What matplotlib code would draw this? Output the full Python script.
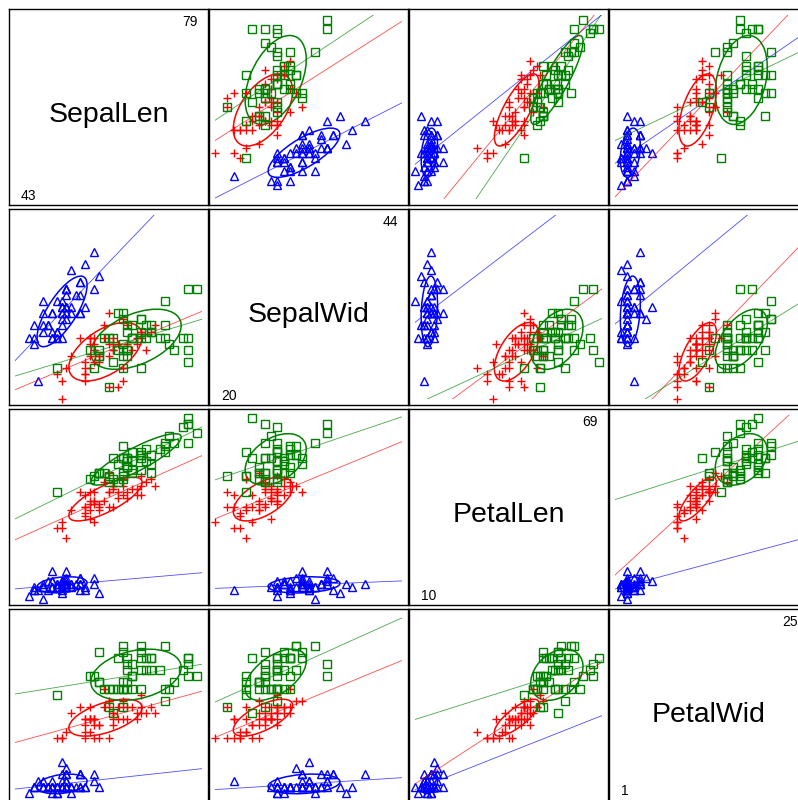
import numpy as np
import matplotlib
matplotlib.use("Agg")
import matplotlib.pyplot as plt
from matplotlib.patches import Ellipse

plt.rcParams['font.family'] = ['Liberation Sans', 'DejaVu Sans']

# Fisher's iris data, in millimetres
setosa_sl = [51, 49, 47, 46, 50, 54, 46, 50, 44, 49, 54, 48, 48, 43, 58, 57, 54, 51, 57, 51,
             54, 51, 46, 51, 48, 50, 50, 52, 52, 47, 48, 54, 52, 55, 49, 50, 55, 49, 44, 51,
             50, 45, 44, 50, 51, 48, 51, 46, 53, 50]
setosa_sw = [35, 30, 32, 31, 36, 39, 34, 34, 29, 31, 37, 34, 30, 30, 40, 44, 39, 35, 38, 38,
             34, 37, 36, 33, 34, 30, 34, 35, 34, 32, 31, 34, 41, 42, 31, 32, 35, 36, 30, 34,
             35, 23, 32, 35, 38, 30, 38, 32, 37, 33]
setosa_pl = [14, 14, 13, 15, 14, 17, 14, 15, 14, 15, 15, 16, 14, 11, 12, 15, 13, 14, 17, 15,
             17, 15, 10, 17, 19, 16, 16, 15, 14, 16, 16, 15, 15, 14, 15, 12, 13, 14, 13, 15,
             13, 13, 13, 16, 19, 14, 16, 14, 15, 14]
setosa_pw = [2, 2, 2, 2, 2, 4, 3, 2, 2, 1, 2, 2, 1, 1, 2, 4, 4, 3, 3, 3,
             2, 4, 2, 5, 2, 2, 4, 2, 2, 2, 2, 4, 1, 2, 2, 2, 2, 1, 2, 2,
             3, 3, 2, 6, 4, 3, 2, 2, 2, 2]

versi_sl = [70, 64, 69, 55, 65, 57, 63, 49, 66, 52, 50, 59, 60, 61, 56, 67, 56, 58, 62, 56,
            59, 61, 63, 61, 64, 66, 68, 67, 60, 57, 55, 55, 58, 60, 54, 60, 67, 63, 56, 55,
            55, 61, 58, 50, 56, 57, 57, 62, 51, 57]
versi_sw = [32, 32, 31, 23, 28, 28, 33, 24, 29, 27, 20, 30, 22, 29, 29, 31, 30, 27, 22, 25,
            32, 28, 25, 28, 29, 30, 28, 30, 29, 26, 24, 24, 27, 27, 30, 34, 31, 23, 30, 25,
            26, 30, 26, 23, 27, 30, 29, 29, 25, 28]
versi_pl = [47, 45, 49, 40, 46, 45, 47, 33, 46, 39, 35, 42, 40, 47, 36, 44, 45, 41, 45, 39,
            48, 40, 49, 47, 43, 44, 48, 50, 45, 35, 38, 37, 39, 51, 45, 45, 47, 44, 41, 40,
            44, 46, 40, 33, 42, 42, 42, 43, 30, 41]
versi_pw = [14, 15, 15, 13, 15, 13, 16, 10, 13, 14, 10, 15, 10, 14, 13, 14, 15, 10, 15, 11,
            18, 13, 15, 12, 13, 14, 14, 17, 15, 10, 11, 10, 12, 16, 15, 16, 15, 13, 13, 13,
            12, 14, 12, 10, 13, 12, 13, 13, 11, 13]

virgi_sl = [63, 58, 71, 63, 65, 76, 49, 73, 67, 72, 65, 64, 68, 57, 58, 64, 65, 77, 77, 60,
            69, 56, 77, 63, 67, 72, 62, 61, 64, 72, 74, 79, 64, 63, 61, 77, 63, 64, 60, 69,
            67, 69, 58, 68, 67, 67, 63, 65, 62, 59]
virgi_sw = [33, 27, 30, 29, 30, 30, 25, 29, 25, 36, 32, 27, 30, 25, 28, 32, 30, 38, 26, 22,
            32, 28, 28, 27, 33, 32, 28, 30, 28, 30, 28, 38, 28, 28, 26, 30, 34, 31, 30, 31,
            31, 31, 27, 32, 33, 30, 25, 30, 34, 30]
virgi_pl = [60, 51, 59, 56, 58, 66, 45, 63, 58, 61, 51, 53, 55, 50, 51, 53, 55, 67, 69, 50,
            57, 49, 67, 49, 57, 60, 48, 49, 56, 58, 61, 64, 56, 51, 56, 61, 56, 55, 48, 54,
            56, 51, 51, 59, 57, 52, 50, 52, 54, 51]
virgi_pw = [25, 19, 21, 18, 22, 21, 17, 18, 18, 25, 20, 19, 21, 20, 24, 23, 18, 22, 23, 15,
            23, 20, 20, 18, 21, 18, 18, 18, 21, 16, 19, 20, 22, 15, 14, 23, 24, 18, 18, 21,
            24, 23, 19, 23, 25, 23, 19, 20, 23, 18]

var_names = ['SepalLen', 'SepalWid', 'PetalLen', 'PetalWid']
var_min = [43, 20, 10, 1]
var_max = [79, 44, 69, 25]
axis_lims = [(40, 80), (20, 50), (10, 70), (0, 30)]

species = [
    ([setosa_sl, setosa_sw, setosa_pl, setosa_pw], '#0000ff', '^'),
    ([versi_sl, versi_sw, versi_pl, versi_pw], '#ff0000', '+'),
    ([virgi_sl, virgi_sw, virgi_pl, virgi_pw], '#008000', 's'),
]

W, H = 798, 800
fig = plt.figure(figsize=(W / 100, H / 100), dpi=100)

pw, ph = 199, 196   # panel frame size in px
pad = 6             # inner margin between frame and data area
c = 1.52            # ellipse scale (about 68 %)


def frac(x, y, w, h):
    return [x / W, 1 - (y + h) / H, w / W, h / H]


for i in range(4):
    for j in range(4):
        x0 = 9 + 200 * j
        y0 = 9 + 200 * i
        frame = fig.add_axes(frac(x0, y0, pw, ph))
        frame.set_xticks([])
        frame.set_yticks([])
        for sp in frame.spines.values():
            sp.set_linewidth(1.0)
            sp.set_color('black')
        frame.patch.set_alpha(0)

        if i == j:
            frame.text(0.5, 0.457, var_names[i], ha='center', va='center',
                       fontsize=20.5, transform=frame.transAxes)
            frame.annotate(str(var_max[i]), (1, 1), xycoords='axes fraction',
                           xytext=(-10, -6), textcoords='offset pixels',
                           ha='right', va='top', fontsize=10)
            # last panel runs past the bottom edge, lift its label a bit
            yoff = 5 if i < 3 else 10
            frame.annotate(str(var_min[i]), (0, 0), xycoords='axes fraction',
                           xytext=(12, yoff), textcoords='offset pixels',
                           ha='left', va='baseline', fontsize=10)
            continue

        ax = fig.add_axes(frac(x0 + pad, y0 + pad, pw - 2 * pad, ph - 2 * pad))
        ax.set_xlim(axis_lims[j])
        ax.set_ylim(axis_lims[i])
        ax.axis('off')

        for data, col, mk in species:
            xs = np.array(data[j], dtype=float)
            ys = np.array(data[i], dtype=float)

            # regression line of y on x, across the whole panel
            b, a = np.polyfit(xs, ys, 1)
            lx = np.array(axis_lims[j], dtype=float)
            ax.plot(lx, a + b * lx, color=col, lw=0.6, alpha=0.7)

            # ellipse
            cov = np.cov(xs, ys)
            vals, vecs = np.linalg.eigh(cov)
            order = vals.argsort()[::-1]
            vals, vecs = vals[order], vecs[:, order]
            ang = np.degrees(np.arctan2(vecs[1, 0], vecs[0, 0]))
            ell = Ellipse((xs.mean(), ys.mean()), 2 * c * np.sqrt(vals[0]),
                          2 * c * np.sqrt(vals[1]), angle=ang, fill=False,
                          edgecolor=col, lw=1.1, clip_on=False)
            ax.add_patch(ell)

            if mk == '+':
                ax.plot(xs, ys, ls='none', marker=mk, ms=6, mew=1.0,
                        color=col, clip_on=False)
            else:
                ax.plot(xs, ys, ls='none', marker=mk, ms=5.5, mew=1.0,
                        mfc='none', mec=col, clip_on=False)

fig.savefig('out.png', dpi=100)
